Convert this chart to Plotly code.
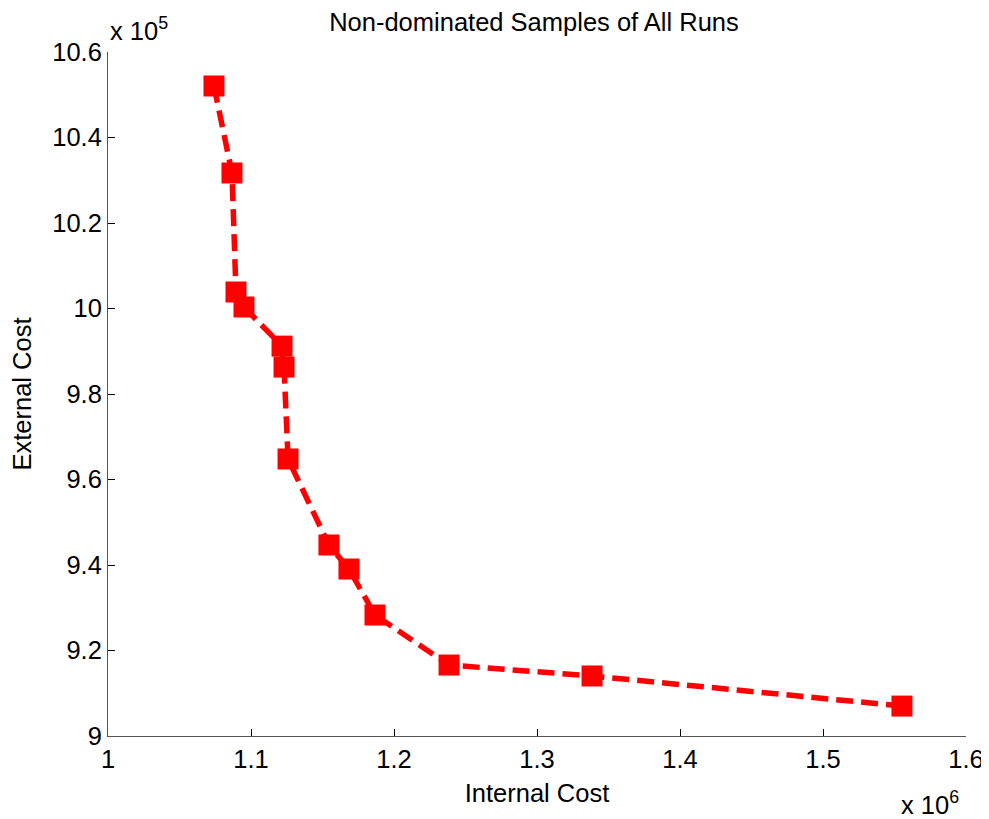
import plotly.graph_objects as go

internal_cost = [1074100, 1086700, 1089500, 1095100, 1121700, 1123100, 1125900,
                 1154500, 1168500, 1186700, 1238500, 1338500, 1555200]
external_cost = [1052050, 1031700, 1003860, 1000350, 991200, 986300, 964800,
                 944680, 939060, 928300, 916600, 914040, 907000]

x_ticks = [1.0e6, 1.1e6, 1.2e6, 1.3e6, 1.4e6, 1.5e6, 1.6e6]
x_tick_labels = ["1", "1.1", "1.2", "1.3", "1.4", "1.5", "1.6"]
y_ticks = [9.0e5, 9.2e5, 9.4e5, 9.6e5, 9.8e5, 10.0e5, 10.2e5, 10.4e5, 10.6e5]
y_tick_labels = ["9", "9.2", "9.4", "9.6", "9.8", "10", "10.2", "10.4", "10.6"]

fig = go.Figure()
fig.add_trace(go.Scatter(
    x=internal_cost, y=external_cost, mode="lines+markers",
    line=dict(color="#ff0000", width=5.5, dash="17px,8px"),
    marker=dict(symbol="square", size=21, color="#ff0000"),
    showlegend=False,
))

FS = 25.5
font = dict(family="Liberation Sans, Arial, sans-serif", color="#000000")
# page body has an 8px margin, so the figure is 8px smaller and shifted
fig.update_layout(
    width=981, height=811,
    margin=dict(l=100, r=23, t=44, b=83, autoexpand=False),
    paper_bgcolor="white", plot_bgcolor="white",
    font=dict(size=FS, **font),
    title=dict(text="Non-dominated Samples of All Runs", x=526 / 981,
               xanchor="center", y=1 - 14 / 811, yanchor="middle",
               font=dict(size=FS, **font)),
    xaxis=dict(range=[1.0e6, 1.6e6], tickvals=x_ticks, ticktext=x_tick_labels,
               ticks="inside", ticklen=7, tickcolor="#000", showgrid=False,
               zeroline=False, showline=True, linecolor="#555", linewidth=1,
               mirror=False, automargin=False, tickfont=dict(size=FS, **font),
               title=dict(text="Internal Cost", standoff=12,
                          font=dict(size=FS, **font))),
    yaxis=dict(range=[9.0e5, 10.6e5], tickvals=y_ticks, ticktext=y_tick_labels,
               ticks="inside", ticklen=7, tickcolor="#000", showgrid=False,
               zeroline=False, showline=True, linecolor="#555", linewidth=1,
               mirror=False, automargin=False, tickfont=dict(size=FS, **font),
               title=dict(text="External Cost", standoff=14,
                          font=dict(size=FS, **font))),
    annotations=[
        dict(text="x 10<sup>5</sup>", xref="paper", yref="paper", x=0, y=1,
             xanchor="left", yanchor="bottom", yshift=5, showarrow=False,
             font=dict(size=FS, **font)),
        dict(text="x 10<sup>6</sup>", xref="paper", yref="paper", x=1, y=0,
             xanchor="right", yanchor="top", yshift=-49, xshift=-5,
             showarrow=False, font=dict(size=FS, **font)),
    ],
)

fig.write_html("out.html")
